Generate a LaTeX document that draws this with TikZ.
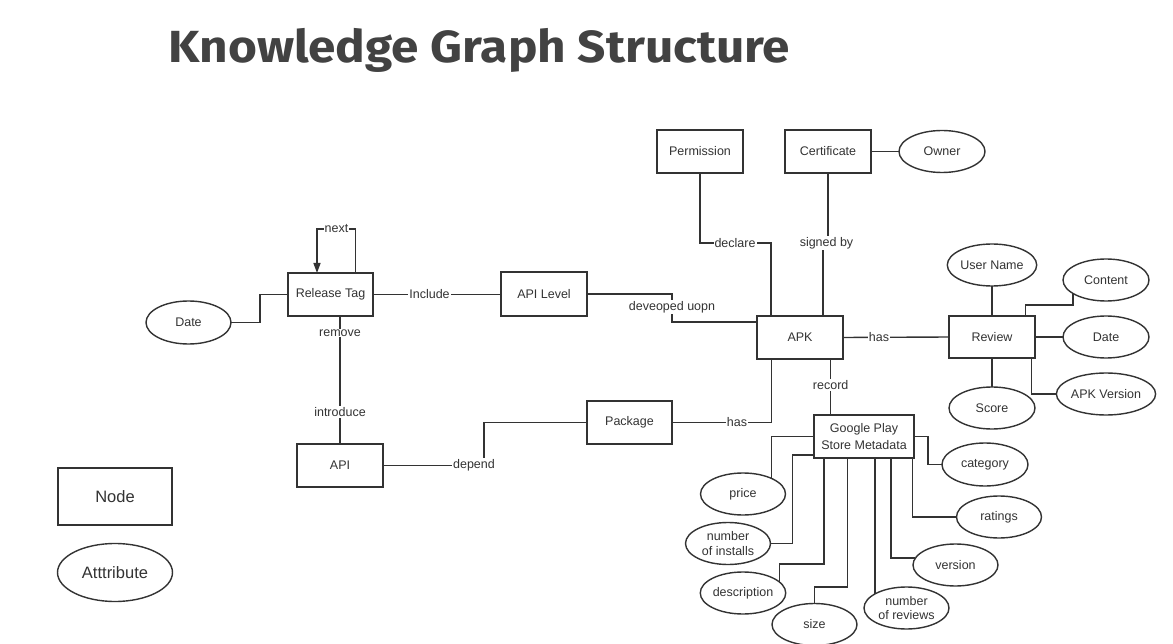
\documentclass[tikz,border=0pt]{standalone}
\usepackage{fontspec}
\setmainfont{Liberation Sans}
\newfontfamily\titlefont{Fira Sans}
\usetikzlibrary{shapes.geometric,arrows.meta,calc}
\definecolor{ink}{HTML}{333333}
\definecolor{titlegray}{HTML}{424242}
\tikzset{
  ent/.style={draw=ink, line width=1.4pt, rectangle, minimum width=86pt, minimum height=43pt, inner sep=1pt, outer sep=0pt, text=ink, font=\fontsize{12.5}{16.5}\selectfont, align=center},
  attr/.style={draw=ink, line width=1.4pt, ellipse, minimum width=86pt, minimum height=42pt, inner sep=0pt, outer sep=0pt, text=ink, font=\fontsize{12.5}{14.5}\selectfont, align=center},
  conn/.style={draw=ink, line width=1.4pt},
  lbl/.style={fill=white, inner sep=1pt, text=ink, font=\fontsize{12.5}{14}\selectfont},
}
\begin{document}
\begin{tikzpicture}[x=1pt,y=-1pt]
\useasboundingbox (0,0) rectangle (1173,644);
\fill[white] (0,0) rectangle (1173,644);

% title
\node[anchor=base west, inner sep=0pt, xscale=1.1, text=titlegray, font=\titlefont\bfseries\fontsize{45}{50}\selectfont] (title) at (168,63) {Knowledge Graph Structure};

% entity nodes
\node[ent, minimum width=85pt] (rt) at (330.5,294.5) {Release Tag};
\node[ent, minimum height=44pt] (apil) at (544,294) {API Level};
\node[ent] (api) at (340,465.5) {API};
\node[ent, minimum width=85pt] (pkg) at (629.5,422.5) {Package};
\node[ent] (perm) at (700,151.5) {Permission};
\node[ent] (cert) at (828,151.5) {Certificate};
\node[ent] (apk) at (800,337.5) {APK};
\node[ent, minimum height=42pt] (rev) at (992,337) {Review};
\node[ent, minimum width=100pt] (gp) at (864,436.5) {Google Play\\Store Metadata};

% attribute nodes
\node[attr, minimum width=85pt, minimum height=43pt] (date1) at (188.5,322.5) {Date};
\node[attr] (owner) at (942,151.5) {Owner};
\node[attr] (uname) at (992,265) {User Name};
\node[attr] (score) at (992,408) {Score};
\node[attr] (content) at (1106,280) {Content};
\node[attr] (date2) at (1106,337) {Date};
\node[attr] (apkv) at (1106,394) {APK Version};
\node[attr, minimum width=85pt] (price) at (743,494) {price};
\node[attr, minimum width=85pt] (installs) at (728,543.5) {number\\of installs};
\node[attr, minimum width=85pt] (desc) at (743,593) {description};
\node[attr, minimum width=85pt] (size) at (814.5,624.5) {size};
\node[attr, minimum width=85pt] (nrev) at (906.5,608) {number\\of reviews};
\node[attr, minimum width=85pt] (version) at (955.5,565) {version};
\node[attr, minimum width=85pt] (ratings) at (999,517) {ratings};
\node[attr, minimum height=43pt] (category) at (985,464.5) {category};

% legend
\node[ent, minimum width=114pt, minimum height=57pt, font=\fontsize{16.5}{18}\selectfont] (legnode) at (115,496.5) {Node};
\node[attr, minimum width=115pt, minimum height=58pt, font=\fontsize{16.5}{18}\selectfont] (legattr) at (115,572.5) {Atttribute};

% connectors
\draw[conn, -{Triangle[length=10pt,width=7pt]}] ($(rt.north)+(25.2,0)$) -- ++(0,-44) -| ($(rt.north)+(-13.5,0)$);
\draw[conn] (date1.east) -- ++(29,0) |- (rt.west);
\draw[conn] (rt.east) -- (rt.east -| apil.west);
\draw[conn] (api.north |- rt.south) -- (api.north);
\draw[conn] (api.east) -- ++(101,0) |- (pkg.west);
\draw[conn] (apil.east) -- ++(85,0) |- ($(apk.west)+(0,-15.5)$);
\draw[conn] (perm.south) -- ++(0,70) -| ($(apk.north)+(-29,0)$);
\draw[conn] (cert.south) -- ++(0,70) -- ++(-5,0) -- ($(apk.north)+(23,0)$);
\draw[conn] (cert.east) -- (owner.west);
\draw[conn] (apk.east) -- (rev.west);
\draw[conn] ($(apk.south)+(30.7,0)$) -- ($(gp.north)+(-33.3,0)$);
\draw[conn] (pkg.east) -| ($(apk.south)+(-28.3,0)$);
\draw[conn] (rev.north) -- (uname.south);
\draw[conn] (rev.south) -- (score.north);
\draw[conn] ($(rev.north east)+(-9.3,0)$) -- ++(0,-11) -| (content.202);
\draw[conn] (rev.east) -- (date2.west);
\draw[conn] ($(rev.south east)+(-3.3,0)$) |- (apkv.west);
\draw[conn] (price.29) |- (gp.west);
\draw[conn] (installs.east) -| ($(gp.south west)+(-21.3,-3)$) -- ($(gp.south west)+(0,-3)$);
\draw[conn] (desc.17) -- ++(0,-18) -| ($(gp.south west)+(10,0)$);
\draw[conn] (size.north) -- ++(0,-16.5) -| ($(gp.south west)+(33.7,0)$);
\draw[conn] (nrev.156) -- (nrev.156 |- gp.south);
\draw[conn] (version.170) -| ($(gp.south west)+(77,0)$);
\draw[conn] (ratings.west) -| ($(gp.south east)+(-1.7,0)$);
\draw[conn] (gp.east) -- ++(14,0) |- (category.west);

% connector labels
\node[lbl] (lnext) at (336.5,229) {next};
\node[lbl] (linclude) at (429.5,294) {Include};
\node[lbl] (lremove) at (340,333) {remove};
\node[lbl] (lintro) at (340,412) {introduce};
\node[lbl] (ldepend) at (474,465) {depend};
\node[lbl] (ldev) at (672,307) {deveoped uopn};
\node[lbl] (ldeclare) at (735,243) {declare};
\node[lbl] (lsigned) at (826.5,243) {signed by};
\node[lbl] (lhas1) at (879,337.5) {has};
\node[lbl] (lrecord) at (830.7,385) {record};
\node[lbl] (lhas2) at (737,422.5) {has};
\end{tikzpicture}
\end{document}
